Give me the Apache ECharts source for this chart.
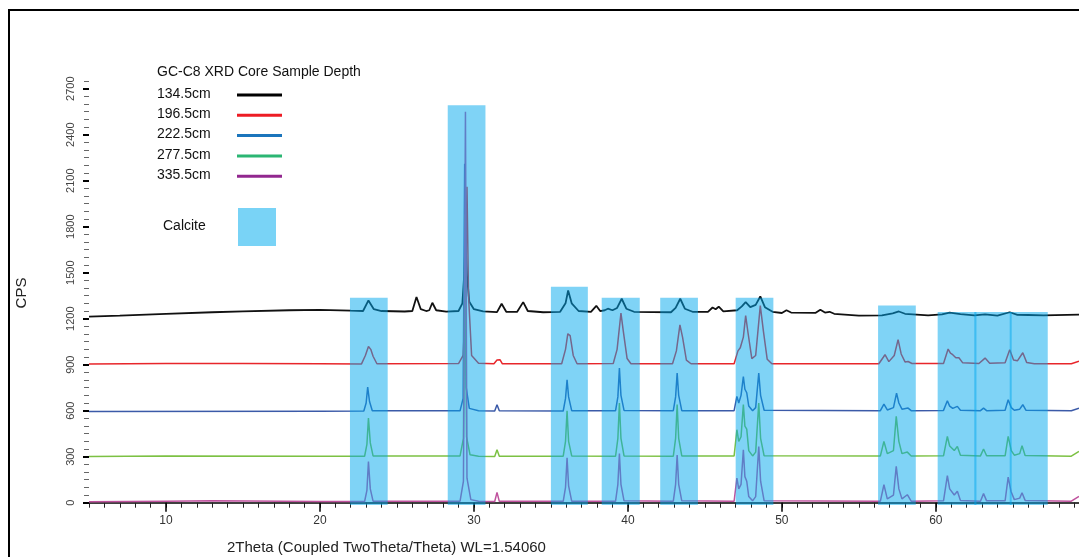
<!DOCTYPE html>
<html>
<head>
<meta charset="utf-8">
<title>GC-C8 XRD</title>
<script src="https://cdn.jsdelivr.net/npm/echarts@6/dist/echarts.min.js"></script>
<style>
  html, body { margin: 0; padding: 0; background: #fff; }
  #chart { width: 1079px; height: 557px; }
</style>
</head>
<body>
<div id="chart"></div>
<script>
// sample depths (legend order)
const depths = ['134.5cm', '196.5cm', '222.5cm', '277.5cm', '335.5cm'];

// [2theta, CPS], each pattern already stacked by its offset
const s134 = [
  [5,1213],[7,1220],[10,1232],[13,1242],[15,1248],[18,1255],[20,1258],[22,1252],
  [22.8,1250],[23.15,1319],[23.5,1262],[24,1250],[25.5,1247],
  [26.0,1250],[26.27,1341],[26.55,1262],[26.9,1250],[27.1,1255],[27.3,1304],[27.55,1255],[28.2,1246],
  [29.0,1250],[29.25,1300],[29.38,1500],[29.45,1715],[29.55,1480],[29.7,1310],[30.0,1262],[30.6,1248],
  [31.5,1243],[31.8,1297],[32.1,1245],[32.8,1244],[33.2,1308],[33.5,1250],[34.5,1242],
  [35.6,1245],[35.95,1300],[36.12,1384],[36.35,1300],[36.8,1250],[37.6,1245],[37.95,1284],[38.2,1250],
  [38.5,1255],[38.7,1265],[39.0,1255],[39.3,1270],[39.6,1330],[39.9,1265],[40.4,1245],
  [42.8,1242],[43.1,1270],[43.4,1330],[43.7,1265],[44.2,1245],
  [45.2,1245],[45.5,1273],[45.7,1262],[45.9,1278],[46.2,1248],
  [47.1,1255],[47.4,1280],[47.65,1308],[47.95,1275],[48.3,1290],[48.6,1345],[48.9,1275],[49.4,1245],
  [50.0,1237],[50.3,1255],[50.6,1240],[52.2,1238],[52.5,1258],[52.8,1240],[53.1,1245],[53.4,1232],
  [55,1220],[56.5,1222],[57.2,1235],[57.6,1247],[58.0,1232],[59.5,1222],[60.4,1228],[60.9,1240],
  [61.6,1230],[62.5,1222],[63.2,1228],[64.0,1220],[64.8,1242],[65.3,1225],[66,1224],[67,1222],[69.3,1226]
];
const s196 = [
  [5,904],[10,908],[15,907],[20,906],[22.7,905],[22.95,960],[23.15,1019],[23.3,1000],[23.45,955],[23.7,906],
  [29.0,907],[29.3,960],[29.45,1300],[29.55,2060],[29.65,1350],[29.85,960],[30.3,910],
  [31.3,906],[31.5,930],[31.7,932],[31.85,906],
  [35.7,906],[35.95,1000],[36.1,1102],[36.25,1090],[36.45,960],[36.7,906],
  [39.05,908],[39.3,1000],[39.55,1237],[39.7,1120],[39.95,940],[40.2,906],
  [42.9,906],[43.15,990],[43.38,1160],[43.55,1080],[43.8,930],[44.1,906],
  [46.9,906],[47.15,990],[47.3,1010],[47.5,1080],[47.65,1220],[47.8,1110],[48.05,940],[48.3,960],
  [48.6,1285],[48.8,1120],[49.05,935],[49.35,906],
  [56.3,906],[56.6,950],[56.7,965],[56.95,920],[57.3,960],[57.55,1063],[57.75,970],[58.0,918],[58.2,921],[58.45,908],
  [60.5,908],[60.8,1002],[60.95,975],[61.1,965],[61.3,945],[61.5,945],[61.75,912],[62.8,908],[63.2,943],[63.5,910],
  [64.5,912],[64.8,997],[65.05,930],[65.3,925],[65.65,978],[65.9,915],[66.4,906],[68.8,906],[69.3,922]
];
const s222 = [
  [5,595],[20,597],[22.85,598],[23.0,650],[23.1,754],[23.22,660],[23.4,600],
  [29.1,600],[29.3,680],[29.4,2210],[29.5,750],[29.7,615],[30.3,600],
  [31.35,598],[31.5,639],[31.65,600],
  [35.8,598],[35.95,680],[36.05,802],[36.15,690],[36.35,600],
  [39.2,600],[39.35,690],[39.45,878],[39.55,700],[39.75,602],
  [42.95,600],[43.1,690],[43.2,846],[43.3,700],[43.5,600],
  [46.9,600],[47.08,693],[47.2,650],[47.35,700],[47.5,823],[47.6,740],[47.72,717],[47.85,630],[48.1,600],
  [48.3,620],[48.5,846],[48.62,700],[48.85,603],
  [56.4,600],[56.63,643],[56.85,605],[57.25,620],[57.45,715],[57.6,650],[57.8,610],[58.2,617],[58.4,600],
  [60.5,602],[60.75,665],[60.9,630],[61.1,615],[61.4,628],[61.6,603],[62.9,600],[63.1,617],[63.3,600],
  [64.5,603],[64.7,671],[64.9,620],[65.1,603],[65.45,610],[65.65,639],[65.85,603],[68.8,600],[69.3,617]
];
const s277 = [
  [5,302],[10,305],[20,303],[22.9,303],[23.05,380],[23.15,552],[23.27,390],[23.45,305],
  [29.1,305],[29.32,420],[29.42,1880],[29.52,430],[29.75,312],[30.3,303],
  [31.35,302],[31.5,346],[31.65,303],
  [35.8,303],[35.95,400],[36.05,600],[36.15,400],[36.35,305],
  [39.2,303],[39.35,420],[39.45,650],[39.55,420],[39.75,305],
  [42.95,303],[43.1,420],[43.2,640],[43.3,420],[43.5,305],
  [46.9,305],[47.08,476],[47.2,400],[47.35,430],[47.5,640],[47.6,500],[47.72,480],[47.85,340],[48.1,305],
  [48.3,330],[48.5,650],[48.62,420],[48.85,306],
  [56.4,305],[56.63,400],[56.85,320],[57.25,340],[57.43,563],[57.6,400],[57.8,320],[58.15,330],[58.4,305],
  [60.5,306],[60.75,432],[60.9,370],[61.0,367],[61.2,340],[61.4,367],[61.6,310],[62.9,305],[63.1,350],[63.3,306],
  [64.5,306],[64.7,432],[64.9,340],[65.1,310],[65.45,320],[65.6,372],[65.8,308],[68.8,303],[69.3,334]
];
const s335 = [
  [5,6],[10,10],[13,12],[20,8],[22.9,8],[23.05,80],[23.15,269],[23.27,90],[23.45,10],
  [29.1,10],[29.32,140],[29.45,2550],[29.55,160],[29.8,20],[30.3,10],
  [31.35,8],[31.5,67],[31.65,9],
  [35.8,9],[35.95,100],[36.05,293],[36.15,110],[36.35,10],
  [39.2,10],[39.35,120],[39.45,320],[39.55,120],[39.75,12],
  [42.95,10],[43.1,120],[43.2,310],[43.3,120],[43.5,12],
  [46.9,10],[47.08,161],[47.2,90],[47.35,120],[47.5,345],[47.6,170],[47.72,140],[47.85,40],[48.1,12],
  [48.3,40],[48.5,367],[48.62,140],[48.85,12],
  [56.4,10],[56.63,117],[56.85,25],[57.25,50],[57.43,237],[57.6,90],[57.8,25],[58.15,52],[58.4,10],
  [60.5,12],[60.75,176],[60.9,90],[61.0,85],[61.2,50],[61.4,74],[61.6,15],[62.9,10],[63.1,59],[63.3,12],
  [64.5,12],[64.7,167],[64.88,75],[65.1,20],[65.45,30],[65.6,65],[65.8,15],[68.8,10],[69.3,41]
];
const patterns = [s134, s196, s222, s277, s335];

// calcite windows: [from 2theta, to 2theta, top CPS]; the last three overlap slightly
const calciteBands = [
  [21.95, 24.4, 1337], [28.3, 30.75, 2592], [35.0, 37.4, 1408], [38.3, 40.77, 1337],
  [42.1, 44.55, 1337], [47.0, 49.45, 1337], [56.25, 58.7, 1286],
  [60.12, 62.64, 1244], [62.5, 64.93, 1244], [64.8, 67.27, 1244]
];

const xTickLabels = [10, 20, 30, 40, 50, 60];
const yTickLabels = [0, 300, 600, 900, 1200, 1500, 1800, 2100, 2400, 2700];

const X_MIN = 5, X_MAX = 69.3, Y_MIN = -15, Y_MAX = 2750;

const legendColors = ['#000000', '#ed1c24', '#1b75bc', '#2bb673', '#92278f'];
const lineColors = ['#111111', '#e8262b', '#3b5aa8', '#7cc143', '#c0529e'];
const calciteColor = '#79d3f6';
// translucent wash laid over the traces: looks like calciteColor on white
const calciteWash = 'rgba(0,167,237,0.5)';

const xMinor = [];
for (let v = 5; v <= 69; v++) xMinor.push(v);
const yMinor = [];
for (let v = 0; v <= 2750; v += 50) yMinor.push(v);

const chart = echarts.init(document.getElementById('chart'), null, { renderer: 'canvas' });

const font = 'Liberation Sans, Arial, sans-serif';

const seriesList = patterns.map((d, i) => ({
  name: depths[i],
  type: 'line',
  data: d,
  showSymbol: false,
  symbol: 'none',
  silent: true,
  z: 2,
  lineStyle: { width: i === 0 ? 1.8 : 1.5, color: lineColors[i] }
}));

// calcite boxes drawn over the traces with half opacity
seriesList.push({
  name: 'Calcite',
  type: 'line',
  data: [],
  z: 5,
  silent: true,
  markArea: {
    silent: true,
    z: 10,
    itemStyle: { color: calciteWash },
    data: calciteBands.map(b => [{ xAxis: b[0], yAxis: Y_MIN }, { xAxis: b[1], yAxis: b[2] }])
  }
});

const legendItems = [];
depths.forEach((name, i) => {
  const cy = 95 + i * 20.3;
  legendItems.push({
    type: 'text', left: 157, top: cy - 8,
    style: { text: name, font: '14px ' + font, fill: '#111' }
  });
  legendItems.push({
    type: 'rect', shape: { x: 237, y: cy - 1.5, width: 45, height: 3 },
    style: { fill: legendColors[i] }
  });
});

const option = {
  backgroundColor: '#ffffff',
  animation: false,
  grid: { left: 89, right: 0, top: 81, bottom: 52 },
  xAxis: [
    {
      type: 'value', min: X_MIN, max: X_MAX, position: 'bottom',
      axisLine: { show: true, lineStyle: { color: '#000', width: 1.5 } },
      axisTick: { show: true, customValues: xMinor, length: 5, lineStyle: { color: '#222', width: 1 } },
      axisLabel: { customValues: xTickLabels, margin: 10, color: '#333', fontSize: 12, fontFamily: font },
      splitLine: { show: false }
    },
    {
      type: 'value', min: X_MIN, max: X_MAX, position: 'bottom',
      axisLine: { show: false },
      axisTick: { show: true, customValues: xTickLabels, length: 9, lineStyle: { color: '#000', width: 1.5 } },
      axisLabel: { show: false },
      splitLine: { show: false }
    }
  ],
  yAxis: [
    {
      type: 'value', min: Y_MIN, max: Y_MAX, position: 'left',
      name: 'CPS', nameLocation: 'middle', nameGap: 60,
      nameTextStyle: { fontSize: 15, color: '#222', fontFamily: font },
      axisLine: { show: false },
      axisTick: { show: true, customValues: yMinor, length: 5, lineStyle: { color: '#666', width: 1 } },
      axisLabel: {
        customValues: yTickLabels, rotate: 90, margin: 13, color: '#444', fontSize: 11, fontFamily: font,
        formatter: v => String(v)
      },
      splitLine: { show: false }
    },
    {
      type: 'value', min: Y_MIN, max: Y_MAX, position: 'left',
      axisLine: { show: false },
      axisTick: { show: true, customValues: yTickLabels, length: 6, lineStyle: { color: '#000', width: 2 } },
      axisLabel: { show: false },
      splitLine: { show: false }
    }
  ],
  series: seriesList,
  graphic: [
    {
      type: 'rect', shape: { x: 9, y: 10, width: 1200, height: 700 },
      style: { fill: 'none', stroke: '#000', lineWidth: 2 }, z: 10, silent: true
    },
    {
      type: 'text', left: 157, top: 65,
      style: { text: 'GC-C8 XRD Core Sample Depth', font: '14px ' + font, fill: '#111' }
    },
    ...legendItems,
    {
      type: 'text', left: 163, top: 219,
      style: { text: 'Calcite', font: '14px ' + font, fill: '#111' }
    },
    {
      type: 'rect', shape: { x: 238, y: 208, width: 38, height: 38 },
      style: { fill: calciteColor }
    },
    {
      type: 'text', left: 227, top: 540,
      style: { text: '2Theta (Coupled TwoTheta/Theta) WL=1.54060', font: '15px ' + font, fill: '#222' }
    }
  ]
};

chart.setOption(option);
window.addEventListener('resize', () => chart.resize());
</script>
</body>
</html>
